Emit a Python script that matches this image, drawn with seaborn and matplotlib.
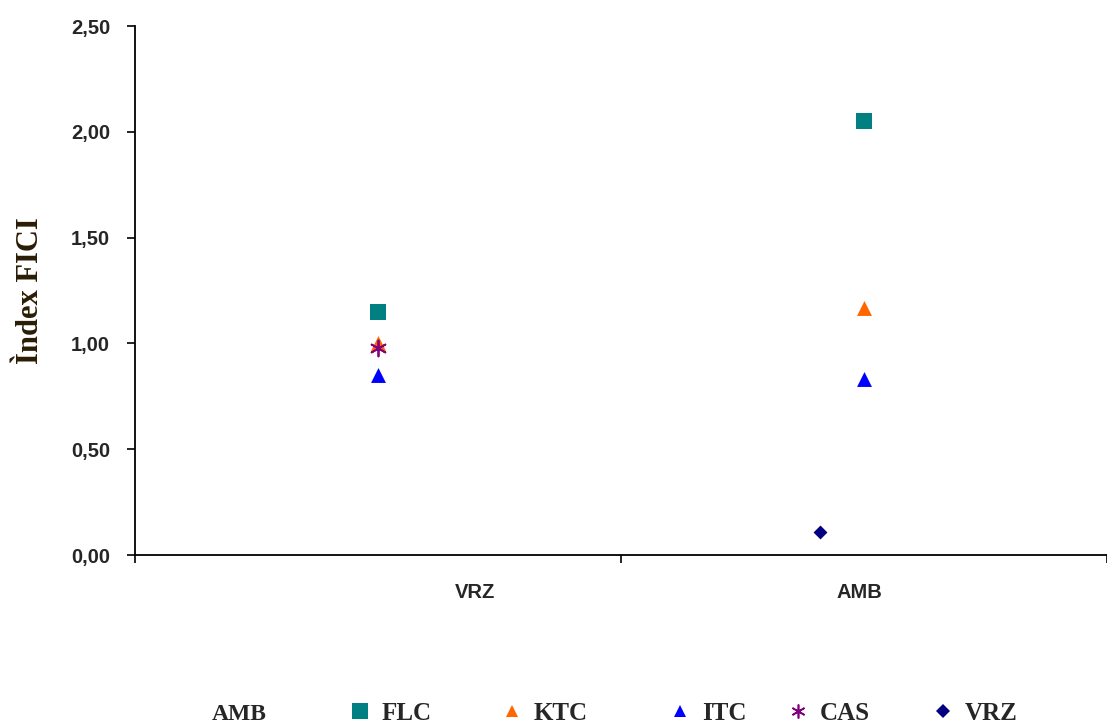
import numpy as np
import matplotlib; matplotlib.use("Agg")
import matplotlib.pyplot as plt
import matplotlib.ticker as mticker
from matplotlib.lines import Line2D
import seaborn as sns

sns.set_theme(style="white")
plt.rcParams.update({"font.family": "Liberation Sans"})

# data
categories = ["VRZ", "AMB"]
series = ["FLC", "KTC", "ITC", "CAS", "VRZ"]
flc = [1.15, 2.05]
ktc = [1.00, 1.17]
itc = [0.85, 0.83]
cas = [0.98, np.nan]
vrz = [np.nan, 0.11]
yticks = [0.0, 0.5, 1.0, 1.5, 2.0, 2.5]

values = dict(zip(series, [flc, ktc, itc, cas, vrz]))
colors = {"FLC": "#008080", "KTC": "#FF6600", "ITC": "#0000FF", "CAS": "#800080", "VRZ": "#000080"}
markers = {"FLC": "s", "KTC": "^", "ITC": "^", "CAS": (6, 2, 0), "VRZ": "D"}
msizes = {"FLC": 125, "KTC": 115, "ITC": 115, "CAS": 130, "VRZ": 50}
shift = {"FLC": 0, "KTC": 0, "ITC": 0, "CAS": 0, "VRZ": -0.09}

fig = plt.figure(figsize=(11.07, 7.26), dpi=100)
ax = fig.add_axes([0.122, 0.2355, 0.878, 0.7285])

xpos = np.arange(len(categories)) + 0.5
for s in series:
    y = np.array(values[s], dtype=float)
    ok = ~np.isnan(y)
    lw = 1.3 if s == "CAS" else 0
    sns.scatterplot(x=xpos[ok] + shift[s], y=y[ok], marker=markers[s], s=msizes[s],
                    color=colors[s], linewidth=lw, ax=ax, zorder=2 if s == "KTC" else 3)

ax.set_xlim(0, 1.97)
ax.set_ylim(0, 2.5)
ax.set_yticks(yticks)
ax.yaxis.set_major_formatter(mticker.FuncFormatter(lambda v, p: f"{v:.2f}".replace(".", ",")))
ax.set_xticks([0, 1, 2])
ax.set_xticklabels([])
# category labels sit where the original chart put them
ax.set_xticks([0.70, 1.49], minor=True)
ax.set_xticklabels(categories, minor=True)
ax.tick_params(axis="x", which="minor", length=0, pad=20, labelsize=14.5)
ax.tick_params(axis="x", which="major", length=6, width=1.2, direction="out", bottom=True, color="black")
ax.tick_params(axis="y", length=6, width=1.2, direction="out", left=True, labelsize=14.5, pad=12, color="black")
for lab in ax.get_yticklabels() + ax.get_xticklabels(minor=True):
    lab.set_fontweight("bold")

for sp in ["top", "right"]:
    ax.spines[sp].set_visible(False)
for sp in ["left", "bottom"]:
    ax.spines[sp].set_color("black")
    ax.spines[sp].set_linewidth(1.3)
ax.grid(False)

ax.set_ylabel("Ìndex FICI", family="Liberation Serif", fontweight="bold", fontsize=22,
              color="#2b1d05")
ax.yaxis.set_label_coords(-0.093, 0.5)

# legend row at the bottom, one entry per series
leg_x = [347, 499, 667, 785, 930]
leg_ms = {"FLC": 11, "KTC": 9, "ITC": 9, "CAS": 10, "VRZ": 7}
for s, px in zip(series, leg_x):
    h = Line2D([], [], linestyle="none", marker=markers[s], color=colors[s],
               markersize=leg_ms[s], markeredgewidth=1.2 if s == "CAS" else 0)
    fig.legend([h], [s], loc="center left", bbox_to_anchor=((px - 12.5) / 1107, 0.017),
               frameon=False, borderpad=0, handlelength=1.0, handletextpad=0.4,
               prop={"family": "Liberation Serif", "weight": "bold", "size": 18})
fig.text(212 / 1107, 0.016, "AMB", family="Liberation Serif", fontweight="bold", fontsize=17,
         va="center", ha="left")

fig.savefig("out.png", dpi=100)
